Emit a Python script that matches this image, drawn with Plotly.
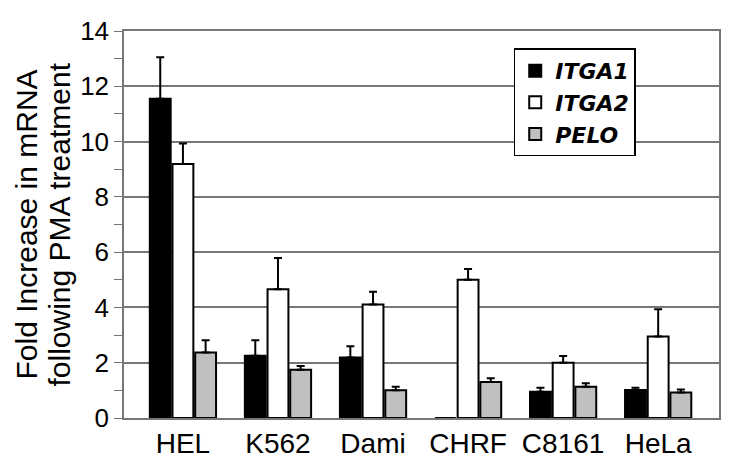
import plotly.graph_objects as go

categories = ["HEL", "K562", "Dami", "CHRF", "C8161", "HeLa"]
itga1 = [11.55, 2.25, 2.19, 0.0, 0.95, 1.01]
itga1_err = [1.5, 0.56, 0.41, 0.0, 0.14, 0.08]
itga2 = [9.19, 4.66, 4.11, 5.0, 2.0, 2.95]
itga2_err = [0.74, 1.13, 0.46, 0.39, 0.24, 0.98]
pelo = [2.37, 1.75, 1.0, 1.30, 1.13, 0.92]
pelo_err = [0.44, 0.13, 0.13, 0.14, 0.13, 0.11]
y_ticks = [0, 2, 4, 6, 8, 10, 12, 14]
y_title_lines = ["Fold Increase in mRNA", "following PMA treatment"]

font = "Liberation Sans, Arial, sans-serif"

def err(vals):
    return dict(type="data", array=vals, arrayminus=[0]*len(vals), symmetric=False,
                color="black", thickness=2, width=4)

fig = go.Figure()
fig.add_trace(go.Bar(x=categories, y=itga1, name="<b><i>ITGA1</i></b>",
                     marker=dict(color="black", line=dict(color="black", width=2)),
                     error_y=err(itga1_err)))
fig.add_trace(go.Bar(x=categories, y=itga2, name="<b><i>ITGA2</i></b>",
                     marker=dict(color="white", line=dict(color="black", width=2)),
                     error_y=err(itga2_err)))
fig.add_trace(go.Bar(x=categories, y=pelo, name="<b><i>PELO</i></b>",
                     marker=dict(color="#c0c0c0", line=dict(color="black", width=2)),
                     error_y=err(pelo_err)))

# y-axis title as two rotated lines
for text, xpos in zip(y_title_lines, [18, 51]):
    fig.add_annotation(text=text, xref="paper", yref="paper", x=0, y=0.5,
                       xanchor="center", yanchor="middle", textangle=-90,
                       xshift=xpos - 116, showarrow=False,
                       font=dict(size=30, color="black", family=font))

fig.update_layout(
    width=721, height=461,
    margin=dict(l=116, r=10, t=8, b=51),
    paper_bgcolor="white", plot_bgcolor="white",
    barmode="group", bargap=0.284, bargroupgap=0.08,
    font=dict(family=font, size=20, color="black"),
    showlegend=True,
    legend=dict(x=0.655, y=0.955, xanchor="left", yanchor="top",
                bgcolor="white", bordercolor="black", borderwidth=1.5,
                font=dict(size=22, color="black", family="DejaVu Sans"),
                tracegroupgap=0, itemwidth=30),
    xaxis=dict(range=[-0.62, 5.64], showgrid=False, showline=True,
               linecolor="#777777", linewidth=1.5, mirror=True, ticks="",
               tickfont=dict(size=28)),
    yaxis=dict(range=[0, 14], tickvals=y_ticks, showgrid=True, gridcolor="#777777",
               gridwidth=1.5, showline=True, linecolor="#777777", linewidth=1.5,
               mirror=True, ticks="outside", ticklen=8, tickcolor="#777777",
               minor=dict(dtick=1, ticks="outside", ticklen=8, tickcolor="#777777", showgrid=False),
               tickfont=dict(size=26), zeroline=False, ticklabeloverflow="allow"),
)

fig.write_html("out.html")
